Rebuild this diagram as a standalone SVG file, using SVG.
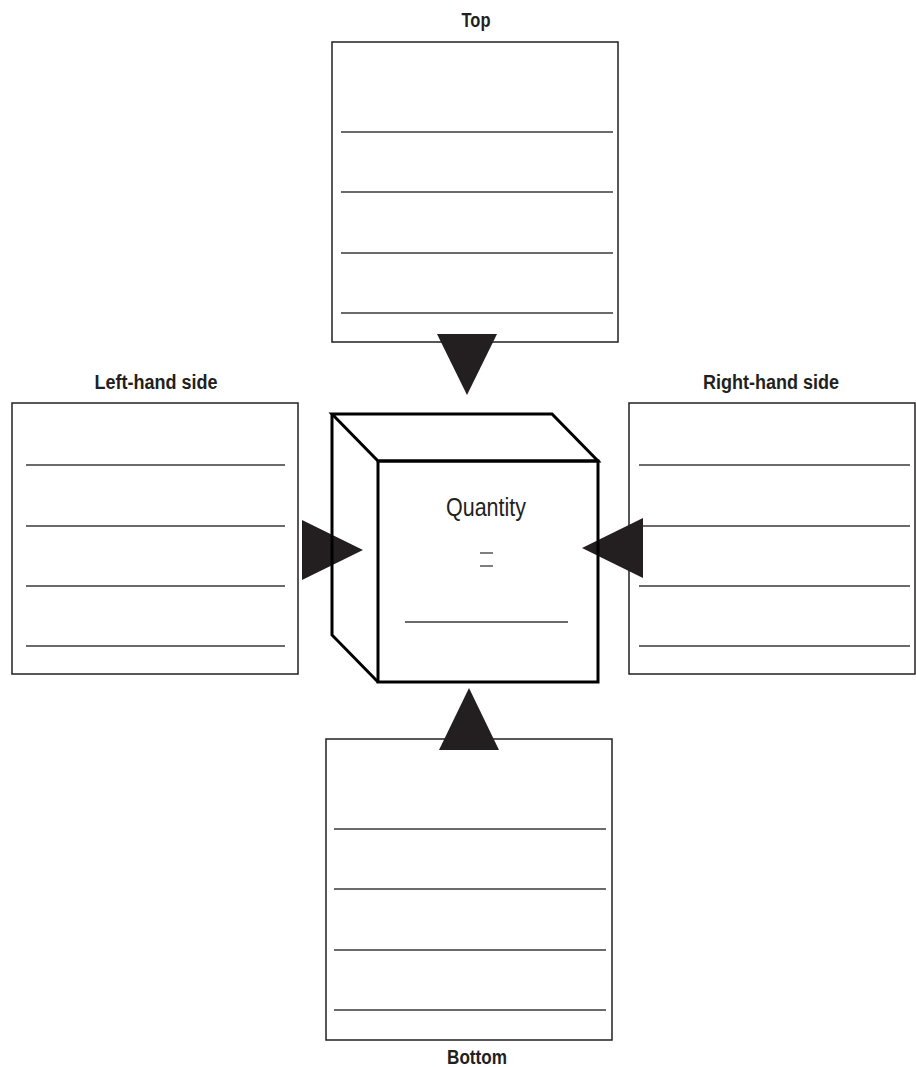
<svg xmlns="http://www.w3.org/2000/svg" width="916" height="1067" viewBox="0 0 916 1067">
<style>
  .box{fill:#ffffff;stroke:#231f20;stroke-width:1.5}
  .rule{stroke:#3a3a3b;stroke-width:1.3}
  .lbl{font-family:"Liberation Sans",Arial,sans-serif;font-weight:bold;font-size:20px;fill:#231f20;text-anchor:middle}
  .arrow{fill:#231f20}
  .cube{fill:none;stroke:#000000;stroke-width:3;stroke-linejoin:miter}
  .qty{font-family:"Liberation Sans",Arial,sans-serif;font-size:25px;fill:#231f20;text-anchor:middle}
</style>
<rect width="916" height="1067" fill="#ffffff"/>

<g id="top">
  <text class="lbl" x="476" y="27" textLength="29" lengthAdjust="spacingAndGlyphs">Top</text>
  <rect class="box" x="332" y="42" width="286" height="300"/>
  <line class="rule" x1="341" y1="132" x2="613" y2="132"/>
  <line class="rule" x1="341" y1="192" x2="613" y2="192"/>
  <line class="rule" x1="341" y1="253" x2="613" y2="253"/>
  <line class="rule" x1="341" y1="313" x2="613" y2="313"/>
</g>

<g id="left">
  <text class="lbl" x="156" y="389" textLength="123" lengthAdjust="spacingAndGlyphs">Left-hand side</text>
  <rect class="box" x="12" y="403" width="286" height="271"/>
  <line class="rule" x1="26" y1="465" x2="285" y2="465"/>
  <line class="rule" x1="26" y1="526" x2="285" y2="526"/>
  <line class="rule" x1="26" y1="586" x2="285" y2="586"/>
  <line class="rule" x1="26" y1="646" x2="285" y2="646"/>
</g>

<g id="right">
  <text class="lbl" x="771" y="389" textLength="136" lengthAdjust="spacingAndGlyphs">Right-hand side</text>
  <rect class="box" x="629" y="403" width="286" height="271"/>
  <line class="rule" x1="639" y1="465" x2="910" y2="465"/>
  <line class="rule" x1="639" y1="526" x2="910" y2="526"/>
  <line class="rule" x1="639" y1="586" x2="910" y2="586"/>
  <line class="rule" x1="639" y1="646" x2="910" y2="646"/>
</g>

<g id="bottom">
  <rect class="box" x="326" y="739" width="286" height="301"/>
  <line class="rule" x1="334" y1="829" x2="606" y2="829"/>
  <line class="rule" x1="334" y1="889" x2="606" y2="889"/>
  <line class="rule" x1="334" y1="950" x2="606" y2="950"/>
  <line class="rule" x1="334" y1="1010" x2="606" y2="1010"/>
  <text class="lbl" x="477" y="1064" textLength="60" lengthAdjust="spacingAndGlyphs">Bottom</text>
</g>

<g id="connectors">
  <polygon class="arrow" points="437,334 497,334 467,395"/>
  <polygon class="arrow" points="302,520 302,580 363,550"/>
  <polygon class="arrow" points="643,518 643,578 582,548"/>
  <polygon class="arrow" points="439,750 499,750 469,688"/>
</g>

<g id="quantity">
  <polygon class="cube" points="332,414 552,414 598,461 378,461"/>
  <polyline class="cube" points="332,414 332,635 378,682"/>
  <rect class="cube" x="378" y="461" width="220" height="221" stroke-width="3.3"/>
  <text class="qty" x="486" y="516" textLength="80" lengthAdjust="spacingAndGlyphs">Quantity</text>
  <line class="rule" x1="480" y1="553" x2="493" y2="553" stroke-width="1"/>
  <line class="rule" x1="480" y1="566" x2="493" y2="566" stroke-width="1"/>
  <line class="rule" x1="405" y1="622" x2="568" y2="622"/>
</g>
</svg>
